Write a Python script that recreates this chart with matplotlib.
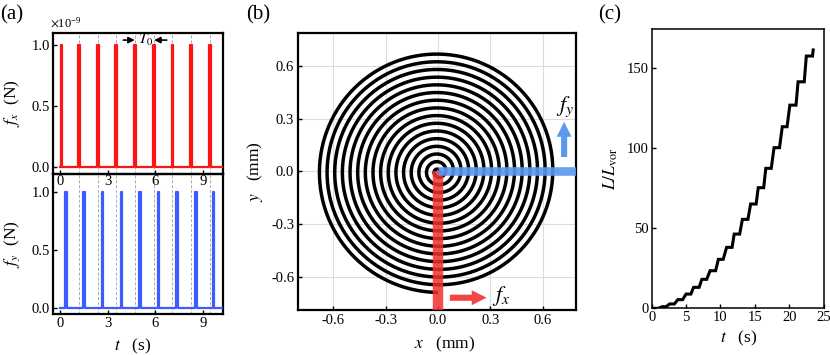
import numpy as np
import matplotlib
matplotlib.use("Agg")
import matplotlib.pyplot as plt
from matplotlib.patches import FancyArrow

plt.rcParams['font.family'] = ['Liberation Serif', 'DejaVu Serif']
plt.rcParams['mathtext.fontset'] = 'stix'
plt.rcParams['font.size'] = 10.5

# ---------------- data ----------------
# panel (a): pulse centre times (s)
fx_pulse_t = [0.10, 1.20, 2.37, 3.54, 4.72, 5.90, 7.07, 8.24, 9.42]
fy_pulse_t = [0.36, 1.51, 2.68, 3.86, 5.03, 6.20, 7.36, 8.53, 9.66]
pulse_height = 1.0
pulse_width = 0.11
signal_t_end = 10.25
period_marks = [1.20, 2.37, 3.54, 4.72, 5.90, 7.07, 8.24, 9.42]
a_xticks = [0, 3, 6, 9]
a_yticks = [0.0, 0.5, 1.0]

# panel (b): spiral parameters (mm)
spiral_outer_radius = 0.69
spiral_turns = 15.75
b_ticks = [-0.6, -0.3, 0.0, 0.3, 0.6]

# panel (c): staircase of L/L_vor
flat_start = [0.0, 1.5, 2.6, 3.8, 5.0, 6.1, 7.3, 8.5, 9.7, 10.9, 12.0, 13.2,
              14.4, 15.5, 16.6, 17.8, 19.0, 20.1, 21.3, 22.5]
flat_end = [1.0, 2.1, 3.3, 4.5, 5.7, 6.9, 8.0, 9.3, 10.4, 11.7, 12.8, 14.0,
            15.2, 16.3, 17.4, 18.6, 19.7, 21.0, 22.2, 23.4]
L_levels = [0.0, 1.0, 2.7, 5.4, 8.9, 13.1, 18.1, 23.5, 30.6, 38.1, 46.4, 55.6,
            65.2, 75.4, 87.5, 100.4, 113.5, 127.0, 141.6, 157.7]
L_final_t, L_final = 23.5, 161.5
c_xticks = [0, 5, 10, 15, 20, 25]
c_yticks = [0, 50, 100, 150]

RED = '#ff1414'
BLUE = '#3d5cff'
W, H = 830, 355
TICK_FS = 10.5
LAB_FS = 12.5

fig = plt.figure(figsize=(W / 100, H / 100), dpi=100)


def rect(l, t, r, b):
    return [l / W, 1 - b / H, (r - l) / W, (b - t) / H]


def pulse_wave(centers):
    xs, ys = [0.0], [0.0]
    for c in centers:
        a, b = c - pulse_width / 2, c + pulse_width / 2
        xs += [a, a, b, b]
        ys += [0, pulse_height, pulse_height, 0]
    xs.append(signal_t_end)
    ys.append(0)
    return xs, ys


axA2 = fig.add_axes(rect(53, 174, 223, 314))
axA1 = fig.add_axes(rect(53, 33, 223, 174))
axA1.patch.set_alpha(0)
axA2.patch.set_alpha(0)

for ax, times, col, ylab, ylim in [
        (axA1, fx_pulse_t, RED, r'$f_x$  (N)', (-0.057, 1.098)),
        (axA2, fy_pulse_t, BLUE, r'$f_y$  (N)', (-0.055, 1.16))]:
    for tm in period_marks:
        ax.axvline(tm, color='#aaaaaa', lw=0.7, ls=(0, (3, 2)), zorder=1)
    xs, ys = pulse_wave(times)
    ax.plot(xs, ys, color=col, lw=1.6, zorder=3)
    ax.set_xlim(-0.44, 10.25)
    ax.set_ylim(*ylim)
    ax.set_xticks(a_xticks)
    ax.set_yticks(a_yticks)
    ax.set_yticklabels([f'{v:.1f}' for v in a_yticks])
    ax.tick_params(direction='in', length=3, width=1, labelsize=TICK_FS, pad=2)
    ax.set_ylabel(ylab, fontsize=LAB_FS)
    ax.yaxis.set_label_coords(-0.182, 0.5)
    for s in ax.spines.values():
        s.set_linewidth(1.6)

axA1.tick_params(axis='x', pad=1)
axA2.set_xlabel(r'$t$   (s)', fontsize=LAB_FS)
axA2.xaxis.set_label_coords(0.47, -0.16)
axA1.text(-0.02, 1.02, r'$\times$10$^{\mathregular{-9}}$', transform=axA1.transAxes,
          fontsize=9, ha='left', va='bottom')

# T0 annotation
axA1.annotate('', xy=(4.70, 1.04), xytext=(3.98, 1.04),
              arrowprops=dict(arrowstyle='-|>', color='black', lw=1.2,
                              mutation_scale=9, shrinkA=0, shrinkB=0))
axA1.annotate('', xy=(5.92, 1.04), xytext=(6.71, 1.04),
              arrowprops=dict(arrowstyle='-|>', color='black', lw=1.2,
                              mutation_scale=9, shrinkA=0, shrinkB=0))
axA1.text(5.40, 1.045, r'$T_0$', fontsize=11, ha='center', va='center')

# ---------------- panel (b) ----------------
axB = fig.add_axes(rect(298.3, 32.7, 576, 310))
theta_max = 2 * np.pi * spiral_turns
th = np.linspace(0, theta_max, 6000)
r = spiral_outer_radius * th / theta_max
axB.plot(r * np.cos(th), r * np.sin(th), color='black', lw=2.5, zorder=3,
         solid_capstyle='butt')
axB.plot([0, 0], [0, -0.80], color='#f23030', lw=7.5, alpha=0.85, zorder=4,
         solid_capstyle='butt')
axB.plot([0, 0.80], [0, 0], color='#5b98ee', lw=6.2, alpha=0.9, zorder=4,
         solid_capstyle='butt')
axB.add_patch(FancyArrow(0.068, -0.72, 0.125, 0, width=0.035, head_width=0.085,
                         head_length=0.085, color='#f24545', lw=0, zorder=5))
axB.add_patch(FancyArrow(0.722, 0.082, 0, 0.115, width=0.035, head_width=0.085,
                         head_length=0.085, color='#5b98ee', lw=0, zorder=5))
axB.text(0.36, -0.71, r'$f_x$', fontsize=16, ha='center', va='center')
axB.text(0.725, 0.37, r'$f_y$', fontsize=16, ha='center', va='center')
axB.set_xlim(-0.8, 0.79)
axB.set_ylim(-0.79, 0.79)
axB.set_xticks(b_ticks)
axB.set_yticks(b_ticks)
axB.set_xticklabels([f'{v:.1f}' for v in b_ticks])
axB.set_yticklabels([f'{v:.1f}' for v in b_ticks])
axB.grid(True, color='#dcdcdc', lw=0.8, zorder=0)
axB.set_axisbelow(True)
axB.tick_params(direction='in', length=3, width=1, labelsize=TICK_FS, pad=3)
for s in axB.spines.values():
    s.set_linewidth(1.6)
axB.set_xlabel(r'$x$   (mm)', fontsize=LAB_FS)
axB.set_ylabel(r'$y$   (mm)', fontsize=LAB_FS)
axB.xaxis.set_label_coords(0.528, -0.09)
axB.yaxis.set_label_coords(-0.12, 0.5)

# ---------------- panel (c) ----------------
axC = fig.add_axes(rect(651.7, 29, 823.5, 308.3))
cx, cy = [], []
for s0, s1, lv in zip(flat_start, flat_end, L_levels):
    cx += [s0, s1]
    cy += [lv, lv]
cx.append(L_final_t)
cy.append(L_final)
axC.plot(cx, cy, color='black', lw=2.2, solid_joinstyle='miter')
axC.set_xlim(0, 25)
axC.set_ylim(0, 174.6)
axC.set_xticks(c_xticks)
axC.set_yticks(c_yticks)
axC.tick_params(direction='in', length=3, width=1, labelsize=TICK_FS, pad=2)
for s in axC.spines.values():
    s.set_linewidth(1.1)
axC.set_xlabel(r'$t$   (s)', fontsize=LAB_FS)
axC.set_ylabel(r'$L/L_{\mathrm{vor}}$', fontsize=LAB_FS)
axC.xaxis.set_label_coords(0.508, -0.075)
axC.yaxis.set_label_coords(-0.185, 0.5)

fig.text(0.0, 0.957, '(a)', fontsize=15, ha='left', va='center')
fig.text(246 / W, 0.957, '(b)', fontsize=15, ha='left', va='center')
fig.text(598 / W, 0.957, '(c)', fontsize=15, ha='left', va='center')

fig.savefig('out.png', dpi=100)
